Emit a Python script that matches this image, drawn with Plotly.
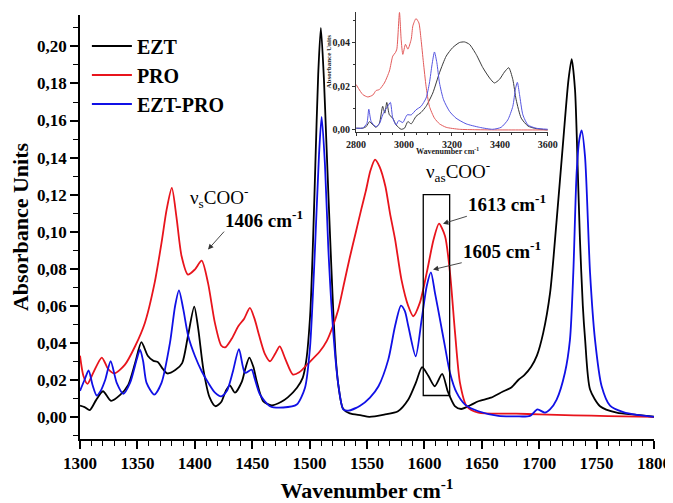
import plotly.graph_objects as go

# ---------------- main spectra (1300-1800 cm-1) ----------------
EZT_X = [1300, 1304, 1308.5, 1314, 1320, 1327, 1335, 1342, 1348, 1353.5, 1359, 1364, 1368, 1372,
         1376, 1383, 1389, 1394, 1399.5, 1403, 1407.5, 1413, 1418, 1423, 1427, 1430.5, 1435, 1441,
         1444, 1447.5, 1451, 1454, 1459.5, 1467, 1475, 1481, 1489, 1494, 1497, 1500.5, 1503, 1505,
         1507.5, 1509.8, 1512.5, 1514.5, 1516.5, 1519, 1521, 1523, 1525.5, 1529, 1535, 1545, 1552,
         1565, 1577, 1586, 1592.5, 1598, 1603.5, 1609, 1615.5, 1620.5, 1626.5, 1632, 1640, 1647,
         1658, 1668, 1676, 1682, 1687, 1693, 1698, 1703.5, 1709.5, 1715, 1721, 1725.5, 1728.3,
         1731.2, 1733.5, 1735.5, 1738, 1740, 1744.3, 1753, 1767.5, 1785, 1800]
EZT_Y = [0.0060, 0.0052, 0.0036, 0.0090, 0.0138, 0.0086, 0.0118, 0.0172, 0.0290, 0.0403, 0.0330,
         0.0302, 0.0295, 0.0260, 0.0234, 0.0252, 0.0290, 0.0435, 0.0595, 0.0475, 0.0255, 0.0103,
         0.0057, 0.0080, 0.0140, 0.0170, 0.0130, 0.0190, 0.0260, 0.0320, 0.0270, 0.0190, 0.0085,
         0.0062, 0.0080, 0.0105, 0.0157, 0.0210, 0.0300, 0.0550, 0.0950, 0.1360, 0.1850, 0.2100,
         0.1820, 0.1500, 0.1180, 0.0800, 0.0520, 0.0300, 0.0150, 0.0045, 0.0018, 0.0008, 0.0000,
         0.0012, 0.0030, 0.0093, 0.0183, 0.0268, 0.0220, 0.0165, 0.0232, 0.0135, 0.0058, 0.0042,
         0.0062, 0.0084, 0.0103, 0.0135, 0.0160, 0.0200, 0.0225, 0.0270, 0.0330, 0.0453, 0.0670,
         0.1047, 0.1497, 0.1820, 0.1932, 0.1766, 0.1350, 0.0957, 0.0600, 0.0417, 0.0147, 0.0057,
         0.0022, 0.0010, 0.0000]

PRO_X = [1300, 1303, 1306.5, 1311.5, 1319, 1324.5, 1330, 1339, 1348, 1356.5, 1365, 1371, 1375.5,
         1380, 1384, 1388.5, 1394, 1400, 1406, 1411.5, 1417.5, 1423, 1426.5, 1432, 1438, 1443,
         1448, 1452, 1456, 1461, 1465.5, 1470, 1474, 1479, 1485.5, 1491, 1497.5, 1509, 1515, 1520,
         1525, 1530, 1535, 1540, 1545, 1549, 1553, 1557, 1561, 1566, 1570, 1574.5, 1580, 1586,
         1590.3, 1596, 1602, 1608, 1612.7, 1618, 1622.3, 1626.7, 1631, 1636.8, 1647, 1680, 1700,
         1730, 1760, 1800]
PRO_Y = [0.0330, 0.0220, 0.0178, 0.0237, 0.0320, 0.0258, 0.0234, 0.0280, 0.0381, 0.0507, 0.0723,
         0.0939, 0.1120, 0.1236, 0.1080, 0.0867, 0.0768, 0.0795, 0.0843, 0.0723, 0.0507, 0.0385,
         0.0375, 0.0420, 0.0490, 0.0530, 0.0588, 0.0530, 0.0440, 0.0340, 0.0300, 0.0340, 0.0380,
         0.0310, 0.0228, 0.0240, 0.0280, 0.0354, 0.0410, 0.0485, 0.0580, 0.0720, 0.0860, 0.0990,
         0.1120, 0.1220, 0.1330, 0.1389, 0.1350, 0.1245, 0.1100, 0.0957, 0.0741, 0.0597, 0.0543,
         0.0615, 0.0777, 0.0957, 0.1043, 0.0975, 0.0777, 0.0453, 0.0183, 0.0057, 0.0022, 0.0017,
         0.0013, 0.0008, 0.0004, 0.0000]

MIX_X = [1300, 1304, 1307.5, 1311, 1314.5, 1318, 1322, 1326.7, 1332, 1337.7, 1343.6, 1349.4, 1352.3,
         1355, 1358, 1364.7, 1371, 1378.4, 1382.8, 1386.2, 1390, 1394.3, 1400.2, 1406, 1411.8,
         1417.6, 1423, 1428, 1433, 1438.5, 1443.7, 1449.5, 1452, 1456.8, 1465.5, 1477, 1488.8, 1496,
         1500.3, 1504.7, 1508.2, 1510.5, 1513.4, 1516.3, 1520.6, 1525, 1529.3, 1533.7, 1544, 1552.6,
         1560, 1568.6, 1574.4, 1579.6, 1583, 1586, 1592.4, 1597.6, 1602, 1605.7, 1609.2, 1613.6,
         1617.9, 1622.3, 1628.1, 1635.4, 1647, 1664.4, 1680, 1692, 1698.5, 1705, 1709.4, 1715.2,
         1722.4, 1726.8, 1729.7, 1732.6, 1735, 1737, 1739.9, 1744.3, 1748.6, 1754.4, 1761.7,
         1773.3, 1785, 1800]
MIX_Y = [0.0140, 0.0200, 0.0250, 0.0170, 0.0115, 0.0140, 0.0200, 0.0300, 0.0183, 0.0124, 0.0183,
         0.0310, 0.0363, 0.0300, 0.0183, 0.0120, 0.0183, 0.0400, 0.0597, 0.0683, 0.0580, 0.0435,
         0.0327, 0.0246, 0.0183, 0.0130, 0.0110, 0.0140, 0.0240, 0.0365, 0.0237, 0.0255, 0.0210,
         0.0120, 0.0057, 0.0050, 0.0066, 0.0157, 0.0370, 0.0910, 0.1415, 0.1620, 0.1360, 0.0910,
         0.0460, 0.0174, 0.0040, 0.0033, 0.0060, 0.0104, 0.0165, 0.0310, 0.0489, 0.0600, 0.0570,
         0.0489, 0.0327, 0.0525, 0.0705, 0.0780, 0.0669, 0.0525, 0.0380, 0.0237, 0.0130, 0.0066,
         0.0030, 0.0005, 0.0002, 0.0005, 0.0040, 0.0022, 0.0040, 0.0093, 0.0238, 0.0417, 0.0777,
         0.1317, 0.1500, 0.1547, 0.1406, 0.0777, 0.0417, 0.0165, 0.0060, 0.0025, 0.0010, 0.0000]

# ---------------- inset spectra (2800-3600 cm-1) ----------------
IN_PRO_X = [2800, 2828, 2849, 2870, 2883, 2897, 2918, 2939, 2953, 2964, 2970, 2981, 2988, 2995,
            3006, 3016, 3030, 3037, 3050, 3062, 3071, 3081, 3092, 3106, 3127, 3148, 3176, 3231,
            3300, 3400, 3500, 3600]
IN_PRO_Y = [0.0208, 0.0162, 0.0151, 0.0160, 0.0180, 0.0185, 0.0215, 0.0270, 0.0338, 0.0354,
            0.0370, 0.0538, 0.0415, 0.0346, 0.0392, 0.0370, 0.0415, 0.0477, 0.0510, 0.0490,
            0.0415, 0.0308, 0.0200, 0.0108, 0.0054, 0.0028, 0.0012, 0.0003, 0.0001, 0.0000,
            0.0000, 0.0000]

IN_EZT_X = [2800, 2828, 2842, 2856, 2870, 2883, 2897, 2911, 2920, 2928, 2939, 2953, 2967, 2988,
            3002, 3016, 3030, 3050, 3071, 3092, 3120, 3148, 3176, 3203, 3231, 3252, 3273, 3301,
            3329, 3357, 3377, 3398, 3419, 3437, 3454, 3468, 3489, 3517, 3551, 3600]
IN_EZT_Y = [0.0008, 0.0008, 0.0015, 0.0038, 0.0023, 0.0012, 0.0030, 0.0108, 0.0077, 0.0126,
            0.0069, 0.0054, 0.0023, 0.0003, 0.0008, 0.0038, 0.0028, 0.0062, 0.0080, 0.0108,
            0.0169, 0.0262, 0.0338, 0.0377, 0.0400, 0.0403, 0.0392, 0.0346, 0.0285, 0.0238,
            0.0215, 0.0231, 0.0265, 0.0285, 0.0231, 0.0138, 0.0054, 0.0018, 0.0006, 0.0000]

IN_MIX_X = [2800, 2828, 2845, 2853, 2863, 2883, 2897, 2911, 2922, 2932, 2943, 2953, 2967, 2978,
            2995, 3013, 3030, 3050, 3071, 3092, 3106, 3117, 3127, 3137, 3148, 3165, 3190, 3217,
            3259, 3315, 3370, 3405, 3433, 3454, 3465, 3473, 3482, 3496, 3517, 3551, 3600]
IN_MIX_Y = [0.0008, 0.0009, 0.0030, 0.0095, 0.0038, 0.0015, 0.0028, 0.0069, 0.0092, 0.0108,
            0.0126, 0.0054, 0.0023, 0.0043, 0.0034, 0.0069, 0.0069, 0.0092, 0.0108, 0.0146,
            0.0215, 0.0300, 0.0357, 0.0308, 0.0215, 0.0138, 0.0085, 0.0054, 0.0028, 0.0012,
            0.0003, 0.0012, 0.0046, 0.0108, 0.0188, 0.0218, 0.0162, 0.0069, 0.0023, 0.0008,
            0.0003]

SERIES_NAMES = ["EZT", "PRO", "EZT-PRO"]
MAIN_COLORS = ["#000000", "#e8141c", "#1010e6"]
INSET_COLORS = ["#3a3a3a", "#e25a5a", "#5555e0"]

X_TICKS = [1300, 1350, 1400, 1450, 1500, 1550, 1600, 1650, 1700, 1750, 1800]

FONT = "Liberation Serif"

fig = go.Figure()
main_data = [(EZT_X, EZT_Y), (PRO_X, PRO_Y), (MIX_X, MIX_Y)]
for (xs, ys), name, col in zip(main_data, SERIES_NAMES, MAIN_COLORS):
    fig.add_trace(go.Scatter(x=xs, y=ys, mode="lines", name=name,
                             line=dict(color=col, width=1.8, shape="spline", smoothing=0.7)))

inset_data = [(IN_EZT_X, IN_EZT_Y), (IN_PRO_X, IN_PRO_Y), (IN_MIX_X, IN_MIX_Y)]
for (xs, ys), name, col in zip(inset_data, SERIES_NAMES, INSET_COLORS):
    fig.add_trace(go.Scatter(x=xs, y=ys, mode="lines", name=name, showlegend=False,
                             xaxis="x2", yaxis="y2",
                             line=dict(color=col, width=1.0, shape="spline", smoothing=0.6)))

bold_tick = dict(family=FONT, size=17, color="black", weight="bold")
inset_tick = dict(family=FONT, size=10, color="#222", weight="bold")
fig.update_layout(
    width=665, height=495,
    margin=dict(l=72, r=19, t=4, b=64, autoexpand=False),
    paper_bgcolor="white", plot_bgcolor="white",
    separators=", ",
    font=dict(family=FONT, color="black"),
    legend=dict(x=0.012, y=0.966, xanchor="left", yanchor="top",
                font=dict(family=FONT, size=20, color="black", weight="bold"),
                bgcolor="rgba(0,0,0,0)", tracegroupgap=0, itemwidth=40),
    xaxis=dict(domain=[0, 1], range=[1300, 1800], tickvals=X_TICKS, automargin=False,
               showline=True, linecolor="black", linewidth=1.5, mirror=False,
               ticks="outside", ticklen=8, tickwidth=1.5, tickcolor="black",
               minor=dict(dtick=10, tick0=1300, ticks="outside", ticklen=5, tickwidth=1, tickcolor="black"),
               showgrid=False, zeroline=False, tickfont=bold_tick,
               title=dict(text="Wavenumber cm<sup>-1</sup>", standoff=12,
                          font=dict(family=FONT, size=22, color="black", weight="bold"))),
    yaxis=dict(domain=[0, 0.993], range=[-0.012, 0.217], tick0=0, dtick=0.02, tickformat=".2f",
               automargin=False,
               showline=True, linecolor="black", linewidth=1.5, mirror=False,
               ticks="outside", ticklen=8, tickwidth=1.5, tickcolor="black",
               minor=dict(dtick=0.01, tick0=0, ticks="outside", ticklen=5, tickwidth=1, tickcolor="black"),
               showgrid=False, zeroline=False, tickfont=bold_tick,
               title=dict(text="Absorbance Units", standoff=3,
                          font=dict(family=FONT, size=22, color="black", weight="bold"))),
    xaxis2=dict(domain=[0.481, 0.815], anchor="y2", range=[2800, 3600], dtick=200, tick0=2800,
                automargin=False,
                showline=True, linecolor="#333", linewidth=1, ticks="outside", ticklen=3,
                tickcolor="#333", minor=dict(dtick=50, ticks="outside", ticklen=2, tickcolor="#333"),
                showgrid=False, zeroline=False, tickfont=inset_tick),
    yaxis2=dict(domain=[0.7197, 1.0], anchor="x2", range=[-0.0008, 0.054], dtick=0.02, tick0=0,
                tickformat=".2f", automargin=False, showline=True, linecolor="#333", linewidth=1,
                ticks="outside", ticklen=3, tickcolor="#333",
                minor=dict(dtick=0.01, ticks="outside", ticklen=2, tickcolor="#333"),
                showgrid=False, zeroline=False, tickfont=inset_tick),
)

# inset axis titles
fig.add_annotation(x=0.641, y=0.675, xref="paper", yref="paper", showarrow=False,
                   text="Wavenumber cm<sup>-1</sup>", xanchor="center", yanchor="middle",
                   font=dict(family=FONT, size=8, color="#222", weight="bold"))
fig.add_annotation(x=0.4345, y=0.885, xref="paper", yref="paper", showarrow=False,
                   text="Absorbance Units", textangle=-90, xanchor="center", yanchor="middle",
                   font=dict(family=FONT, size=7, color="#222", weight="bold"))

# box around the antisymmetric COO- region
fig.add_shape(type="rect", xref="x", yref="y", x0=1599, x1=1622, y0=0.0115, y1=0.12,
              line=dict(color="black", width=1.3))

label_norm = dict(family=FONT, size=19, color="black")
label_bold = dict(family=FONT, size=19, color="black", weight="bold")

fig.add_annotation(x=1394.5, y=0.1185, xref="x", yref="y", text="ν<sub>s</sub>COO<sup>-</sup>",
                   showarrow=False, xanchor="left", yanchor="middle", font=label_norm)
fig.add_annotation(x=1599.5, y=0.1323, xref="x", yref="y", text="ν<sub>as</sub>COO<sup>-</sup>",
                   showarrow=False, xanchor="left", yanchor="middle", font=label_norm)

arrow_style = dict(showarrow=True, arrowhead=2, arrowsize=1.2, arrowwidth=0.9,
                   arrowcolor="#333", xref="x", yref="y", axref="x", ayref="y",
                   xanchor="left", yanchor="bottom", font=label_bold, borderpad=0)
fig.add_annotation(x=1411.5, y=0.0903, ax=1425.5, ay=0.1000,
                   text="1406 cm<sup>-1</sup>", **arrow_style)
fig.add_annotation(x=1616.2, y=0.1043, ax=1637.0, ay=0.1083,
                   text="1613 cm<sup>-1</sup>", **arrow_style)
fig.add_annotation(x=1607.5, y=0.0795, ax=1632.5, ay=0.0832,
                   text="1605 cm<sup>-1</sup>", **arrow_style)

fig.write_html("out.html")
